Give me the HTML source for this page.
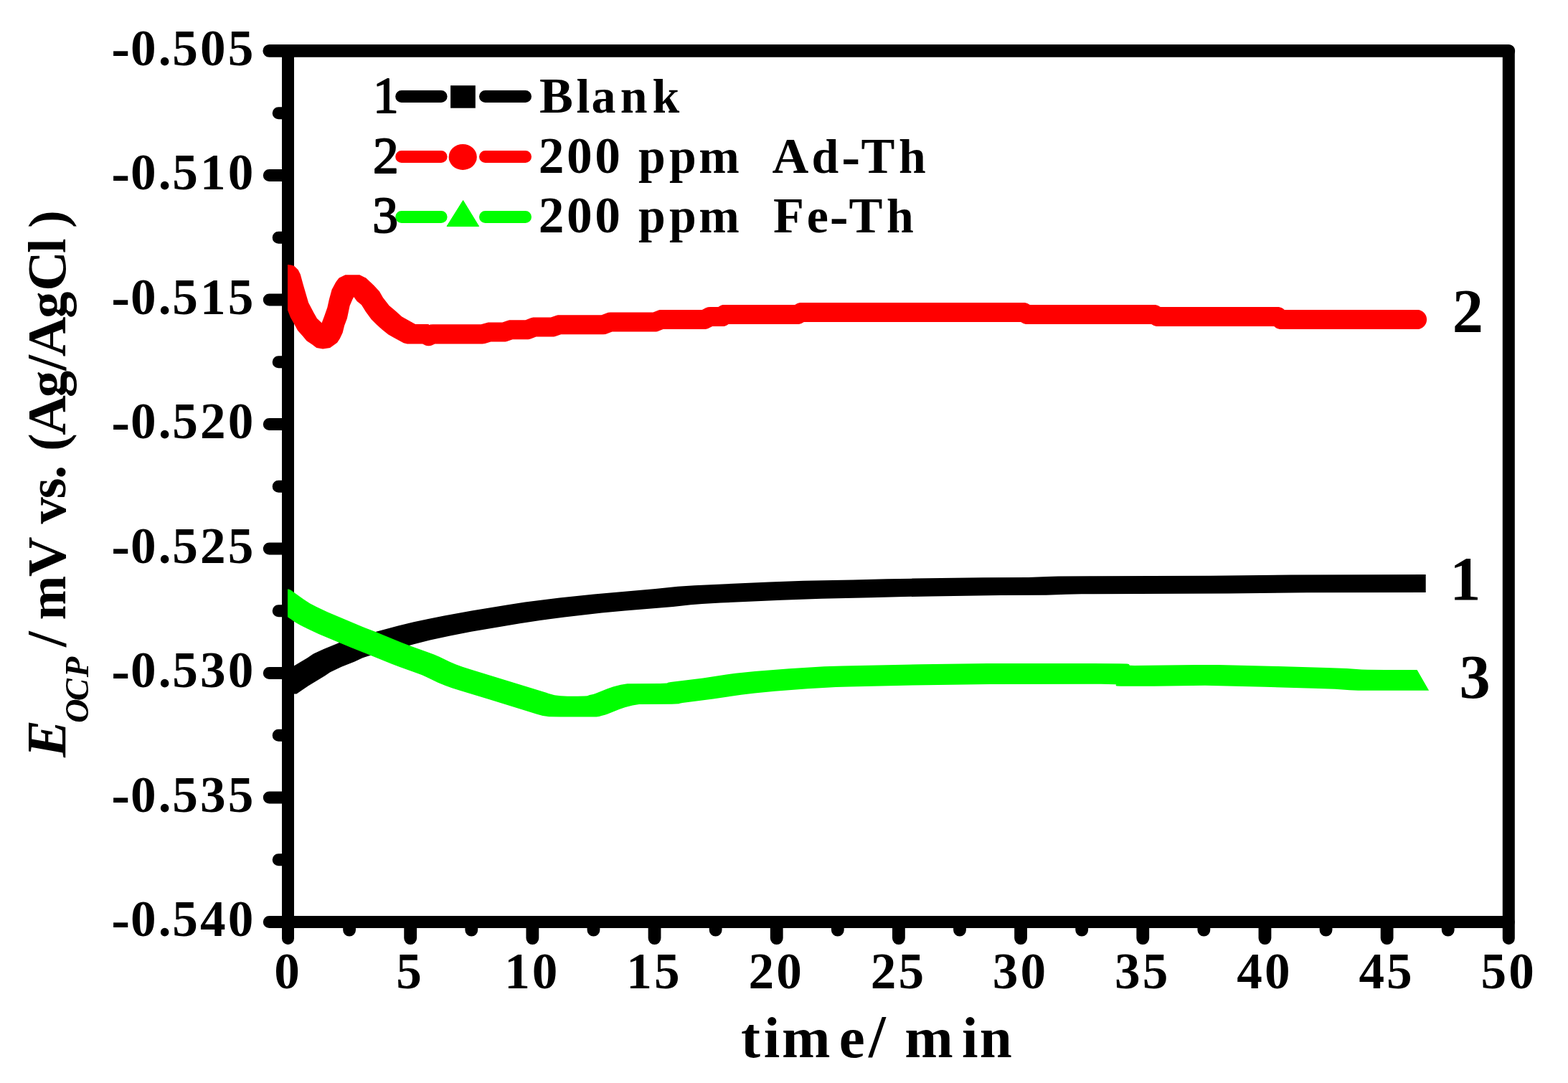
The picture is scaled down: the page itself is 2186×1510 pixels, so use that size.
<!DOCTYPE html>
<html lang="en"><head><meta charset="utf-8"><title>OCP vs time</title>
<style>html,body{margin:0;padding:0;background:#fff;}body{width:2186px;height:1510px;overflow:hidden;}svg{display:block;}text{font-family:"Liberation Serif",serif;font-weight:bold;fill:#000;white-space:pre;}</style></head><body>
<svg width="2186" height="1510" viewBox="0 0 2186 1510">
<rect width="2186" height="1510" fill="#fff"/>
<g fill="none" stroke="#000" stroke-linecap="round">
<path d="M401.5 70.9H2103.3M401.5 70.9H375.3" stroke-width="17.8"/>
<path d="M401.5 1285.5H2103.3M401.5 157.75H388.2M401.5 244.5H375.3M401.5 331.25H388.2M401.5 418H375.3M401.5 504.75H388.2M401.5 591.5H375.3M401.5 678.25H388.2M401.5 765H375.3M401.5 851.75H388.2M401.5 938.5H375.3M401.5 1025.25H388.2M401.5 1112H375.3M401.5 1198.75H388.2M401.5 1285.5H375.3" stroke-width="17"/>
<path d="M401.5 71V1285.5M2103.3 71V1285.5M401.5 1285.5V1308.5M2103.3 1285.5V1308.5" stroke-width="17"/>
<path d="M487.09 1286.5V1296.7M572.18 1286.5V1308.1M657.27 1286.5V1296.7M742.36 1286.5V1308.1M827.45 1286.5V1296.7M912.54 1286.5V1308.1M997.63 1286.5V1296.7M1082.72 1286.5V1308.1M1167.81 1286.5V1296.7M1252.9 1286.5V1308.1M1337.99 1286.5V1296.7M1423.08 1286.5V1308.1M1508.17 1286.5V1296.7M1593.26 1286.5V1308.1M1678.35 1286.5V1296.7M1763.44 1286.5V1308.1M1848.53 1286.5V1296.7M1933.62 1286.5V1308.1M2018.71 1286.5V1296.7" stroke-width="17.8"/>
</g>
<g>
<text xml:space="preserve"><tspan x="155.23" y="93.05" font-size="77.61">-</tspan><tspan x="182.1 220.83 240.2 278.93 317.66" y="90.7" font-size="71.2">0.505</tspan></text>
<text xml:space="preserve"><tspan x="155.23" y="266.55" font-size="77.61">-</tspan><tspan x="182.1 220.83 240.2 278.93 317.66" y="264.2" font-size="71.2">0.510</tspan></text>
<text xml:space="preserve"><tspan x="155.23" y="440.05" font-size="77.61">-</tspan><tspan x="182.1 220.83 240.2 278.93 317.66" y="437.7" font-size="71.2">0.515</tspan></text>
<text xml:space="preserve"><tspan x="155.23" y="613.55" font-size="77.61">-</tspan><tspan x="182.1 220.83 240.2 278.93 317.66" y="611.2" font-size="71.2">0.520</tspan></text>
<text xml:space="preserve"><tspan x="155.23" y="787.05" font-size="77.61">-</tspan><tspan x="182.1 220.83 240.2 278.93 317.66" y="784.7" font-size="71.2">0.525</tspan></text>
<text xml:space="preserve"><tspan x="155.23" y="960.55" font-size="77.61">-</tspan><tspan x="182.1 220.83 240.2 278.93 317.66" y="958.2" font-size="71.2">0.530</tspan></text>
<text xml:space="preserve"><tspan x="155.23" y="1134.05" font-size="77.61">-</tspan><tspan x="182.1 220.83 240.2 278.93 317.66" y="1131.7" font-size="71.2">0.535</tspan></text>
<text xml:space="preserve"><tspan x="155.23" y="1307.55" font-size="77.61">-</tspan><tspan x="182.1 220.83 240.2 278.93 317.66" y="1305.2" font-size="71.2">0.540</tspan></text>
</g><g>
<text xml:space="preserve" x="382.13" y="1378.1" font-size="71.2">0</text>
<text xml:space="preserve" x="552.31" y="1378.1" font-size="71.2">5</text>
<text xml:space="preserve" x="703.13 741.86" y="1378.1" font-size="71.2">10</text>
<text xml:space="preserve" x="873.31 912.04" y="1378.1" font-size="71.2">15</text>
<text xml:space="preserve" x="1043.49 1082.22" y="1378.1" font-size="71.2">20</text>
<text xml:space="preserve" x="1213.67 1252.4" y="1378.1" font-size="71.2">25</text>
<text xml:space="preserve" x="1383.85 1422.58" y="1378.1" font-size="71.2">30</text>
<text xml:space="preserve" x="1554.03 1592.76" y="1378.1" font-size="71.2">35</text>
<text xml:space="preserve" x="1724.21 1762.94" y="1378.1" font-size="71.2">40</text>
<text xml:space="preserve" x="1894.39 1933.12" y="1378.1" font-size="71.2">45</text>
<text xml:space="preserve" x="2064.57 2103.3" y="1378.1" font-size="71.2">50</text>
</g>
<text xml:space="preserve"><tspan x="1032.91 1064.7 1089.98 1169.81" y="1474.25" font-size="81.03">time</tspan><tspan x="1210.88 1234.58" y="1474.25" font-size="85.3">/ </tspan><tspan x="1261.23 1340.95 1365.87" y="1474.25" font-size="81.03">min</tspan></text>
<text xml:space="preserve" x="-1055.96" y="0" font-size="78" font-style="italic" transform="translate(91.2 0) rotate(-90)">E</text>
<text xml:space="preserve" x="-1008.12 -977.22 -944.34" y="0" font-size="46.5" font-style="italic" transform="translate(123.2 0) rotate(-90)">OCP</text>
<text xml:space="preserve" transform="translate(91.2 0) rotate(-90)"><tspan x="-921.53 -901.98 -880.26" y="0" font-size="78.2"> / </tspan><tspan x="-864.45" y="0" font-size="74.29">m</tspan><tspan x="-804.01" y="0" font-size="77.03">V</tspan><tspan x="-748.39" y="0" font-size="78.2"> </tspan><tspan x="-730.57 -695.37" y="0" font-size="74.29">vs</tspan><tspan x="-668.02 -648.48" y="0" font-size="78.2">. </tspan><tspan x="-628.67" y="0" font-size="73.51">(</tspan><tspan x="-606.66" y="0" font-size="77.03">A</tspan><tspan x="-553.89" y="0" font-size="74.29">g</tspan><tspan x="-516.63" y="0" font-size="78.2">/</tspan><tspan x="-497.16" y="0" font-size="77.03">A</tspan><tspan x="-443.84" y="0" font-size="74.29">g</tspan><tspan x="-405.76" y="0" font-size="77.03">C</tspan><tspan x="-352.91" y="0" font-size="74.29">l</tspan><tspan x="-332.27" y="0" font-size="78.2"> </tspan><tspan x="-317.71" y="0" font-size="73.51">)</tspan></text>
<path d="M559.7 134.4H615.1M676.5 134.4H732.5" stroke="#000" stroke-width="17" stroke-linecap="round" fill="none"/>
<rect x="628.1" y="119.2" width="34.7" height="31.5" fill="#000"/>
<text xml:space="preserve" x="520.11" y="157" font-size="71.4" style="font-weight:normal;stroke:#000;stroke-width:2px;stroke-linejoin:round">1</text>
<text xml:space="preserve"><tspan x="751.94" y="157" font-size="70.33">B</tspan><tspan x="803.59 824.46 864.69 909.39" y="157" font-size="67.83">lank</tspan></text>
<path d="M559.7 218.4H615.1M676.5 218.4H732.5" stroke="#f00" stroke-width="17" stroke-linecap="round" fill="none"/>
<ellipse cx="645.2" cy="218.9" rx="19.6" ry="18" fill="#f00"/>
<text xml:space="preserve" x="520.05" y="241.3" font-size="71.4" style="font-weight:normal;stroke:#000;stroke-width:2px;stroke-linejoin:round">2</text>
<text xml:space="preserve"><tspan x="750.73 790.1 829.2 864.9" y="241.3" font-size="71.4">200 </tspan><tspan x="889.93 932.98 974.37" y="241.3" font-size="67.83">ppm</tspan><tspan x="1030.87 1048.72" y="241.3" font-size="71.4">  </tspan><tspan x="1076.42" y="241.3" font-size="70.33">A</tspan><tspan x="1131.54" y="241.3" font-size="67.83">d</tspan><tspan x="1173.34" y="243.66" font-size="77.83">-</tspan><tspan x="1200.53" y="241.3" font-size="70.33">T</tspan><tspan x="1252.91" y="241.3" font-size="67.83">h</tspan></text>
<path d="M559.7 302.5H615.1M676.5 302.5H732.5" stroke="#0f0" stroke-width="17" stroke-linecap="round" fill="none"/>
<path d="M645.6 279.5L667.6 315.5L623 315.5Z" fill="#0f0" stroke="#0f0" stroke-width="1" stroke-linejoin="round"/>
<text xml:space="preserve" x="519.34" y="324.3" font-size="71.4" style="font-weight:normal;stroke:#000;stroke-width:2px;stroke-linejoin:round">3</text>
<text xml:space="preserve"><tspan x="750.73 790.1 829.2 864.9" y="324.3" font-size="71.4">200 </tspan><tspan x="889.93 932.98 974.37" y="324.3" font-size="67.83">ppm</tspan><tspan x="1030.87 1048.72" y="324.3" font-size="71.4">  </tspan><tspan x="1078.05" y="324.3" font-size="70.33">F</tspan><tspan x="1124.72" y="324.3" font-size="67.83">e</tspan><tspan x="1156.64" y="326.66" font-size="77.83">-</tspan><tspan x="1183.53" y="324.3" font-size="70.33">T</tspan><tspan x="1235.91" y="324.3" font-size="67.83">h</tspan></text>
<path d="M555.1 872.6L520.69 881.84L492.48 888.71L484.83 891L480.21 892.76L469.6 897.6L451.22 905.03L437.6 911.35L435.14 912.75L428.58 917.29L405.1 931.35L401 934.08L401 967.4L413.4 967.4L429.9 956.15L453.38 942.09L459.94 937.55L462.4 936.15L476.02 929.83L494.4 922.4L505.01 917.56L512.4 914.9L519.08 913.04L545.49 906.64L577.87 897.92L599.48 892.6L627.52 886.5L656.76 880.81L724.9 869.33L752.9 864.94L786.9 860.51L838.9 854.62L871.47 851.47L938.4 845.9L962.97 843.22L979.04 841.89L1004.69 840.49L1089.28 836.67L1145.05 834.65L1213.96 833.37L1260.91 832.07L1297.3 831.42L1395.15 830.12L1458.4 829.8L1486.06 828.64L1507.9 828.24L1712.4 827.6L1822.51 826.34L1987.7 825.9L1987.7 801.1L1799.76 801.53L1687.6 802.8L1519.86 803.23L1475.26 803.54L1459.23 803.91L1433.6 805L1370.35 805.32L1272.5 806.62L1236.11 807.27L1189.16 808.57L1120.25 809.85L1072.86 811.51L968.28 816.27L944.93 817.79L913.6 821.1L828.1 828.4L780.1 833.6L732.1 839.57L708.1 843.22L657.69 851.55L619.25 858.4L596.87 862.92L576.71 867.33Z" fill="#000"/>
<path d="M401.02 432.61L405.03 442.63L410.03 451.39L415.04 460.78L421.3 467.66L427.56 475.17L435.07 480.18L441.33 484.94L450.09 486.44L460.1 484.94L470.12 477.68L473.87 472.04L477.63 463.91L480.13 453.89L483.89 443.88L487.64 426.35L491.4 417.59L493.27 414.09L497.65 420.1L503.91 425.1L510.17 435.12L517.68 445.13L525.19 452.64L532.7 459.53L541.47 466.41L548.98 470.79L562.74 478.3L567.75 479.55L589.14 479.6L593.01 481.44L594.77 481.92L596.59 482.17L598.41 482.17L600.23 481.92L601.99 481.44L606.26 479.4L672.5 479.4L674.35 479.27L676.17 478.9L684.37 476.6L702.5 476.6L704.63 476.43L706.7 475.93L714.65 473.35L736.62 473.25L739.78 472.48L747.47 469.6L770 469.6L772.13 469.43L774.2 468.93L782.15 466.35L841 466.35L844.22 465.96L853.47 462.6L913 462.6L914.68 462.5L916.33 462.19L924.55 459.1L983.57 459.01L986.63 458.29L993.21 455.1L1007 455.1L1008.78 454.98L1010.52 454.64L1012.2 454.06L1013.8 453.28L1015.5 452.1L1112 452.1L1113.83 451.98L1115.63 451.61L1117.36 451L1120.77 449.1L1423.23 449.1L1426.64 451L1428.37 451.61L1430.17 451.98L1432 452.1L1605.23 452.1L1608.64 454L1610.37 454.61L1612.17 454.98L1614 455.1L1776.23 455.1L1779.01 457.17L1780.64 458L1782.37 458.61L1784.17 458.98L1786 459.1L1975.5 459.1L1977.28 458.98L1979.02 458.64L1980.7 458.06L1982.3 457.28L1983.78 456.29L1985.12 455.12L1986.29 453.78L1987.28 452.3L1988.06 450.7L1988.64 449.02L1988.98 447.28L1989.1 445.5L1988.98 443.72L1988.64 441.98L1988.06 440.3L1987.28 438.7L1986.29 437.22L1985.12 435.88L1983.78 434.71L1982.3 433.72L1980.7 432.94L1979.02 432.36L1977.28 432.02L1975.5 431.9L1790.77 431.9L1787.99 429.83L1786.36 429L1784.63 428.39L1782.83 428.02L1781 427.9L1617.77 427.9L1614.36 426L1612.63 425.39L1610.83 425.02L1609 424.9L1435.77 424.9L1432.36 423L1430.63 422.39L1428.83 422.02L1427 421.9L1117 421.9L1115.17 422.02L1113.37 422.39L1111.64 423L1108.23 424.9L1010 424.9L1008.22 425.02L1006.48 425.36L1004.8 425.94L1003.2 426.72L1001.5 427.9L990 427.9L986.88 428.26L983.92 429.34L978.79 431.9L922 431.9L920.32 432L918.67 432.31L910.45 435.4L851 435.4L847.78 435.79L838.53 439.15L780 439.15L777.87 439.32L775.8 439.82L767.85 442.4L743.38 442.5L740.22 443.27L732.53 446.15L712.5 446.15L710.37 446.32L708.3 446.82L700.35 449.4L682.5 449.4L680.65 449.53L678.83 449.9L670.63 452.2L603 452.2L599.83 452.58L597.79 453.26L597.79 452.02L579.02 452.02L560.24 441.38L550.23 432.61L542.72 426.35L533.95 415.09L528.95 406.33L520.81 397.57L510.17 387.55L501.41 383.17L481.38 383.17L472.62 387.55L468.24 393.18L462.61 403.82L458.85 417.59L456.35 428.86L452.59 439.5L448.59 450.14L441.95 443.88L437.57 436.37L430.06 421.97L422.55 396.31L418.8 382.54L415.67 376.29L410.03 370.65L405.65 369.4L401 369.03Z" fill="#f00"/>
<path d="M401 860.31L411.79 867.75L419.27 872.06L428.88 876.85L444.27 883.88L488.5 902.5L506 909.4L545.55 925.56L557.37 930.09L579 937.7L588.5 941.3L595.56 944.39L610.54 951.63L621.02 955.99L629.95 959.13L642.78 963.25L681.55 974.98L748.5 995.7L756.62 998.07L765.22 999.15L781.34 999.54L821.69 999.55L831.5 999.4L835.31 999.04L838.5 997.9L843.46 996.73L846.5 995.7L863.32 988.94L871.26 986.2L881.91 983.56L891.06 982.05L936.55 981.74L946.68 981.37L947.61 980.64L951.5 979.9L994.32 974.49L1033.18 968.66L1052.11 966.41L1080.22 963.87L1126.07 960.3L1165.43 958.08L1183.98 957.38L1271.92 955.58L1380.02 953.93L1534.91 953.86L1554.65 954.28L1556.33 954.53L1555.42 956.12L1557.01 956.48L1562.5 956.7L1609.16 956.71L1679.95 955.83L1763.24 957.77L1830.75 959.7L1861.19 960.82L1881.76 962.26L1893.5 962.7L1992.1 962.7L1975.6 933.9L1930.44 934.05L1907.19 933.83L1898.26 933.46L1877.69 932.02L1849.3 930.97L1781.88 929.03L1698.38 927.06L1667.09 926.94L1581.5 927.93L1574.9 927.74L1573.84 925.88L1571.15 925.48L1560.34 925.14L1376.51 925.02L1283.2 926.31L1174.39 928.4L1148.93 929.28L1100.46 932.17L1052.5 936.02L1025.39 938.73L1012.53 940.45L980 945.4L935 951.1L931.11 951.84L930.18 952.57L920.05 952.94L874.56 953.25L865.41 954.76L854.76 957.4L846.82 960.14L830 966.9L826.96 967.93L822 969.1L818.81 970.24L815 970.6L805.19 970.75L791.05 970.67L781.72 970.35L773.12 969.27L765 966.9L698.05 946.18L657.35 933.85L644.77 929.77L635.19 926.29L627.04 922.83L612.06 915.59L605 912.5L595.5 908.9L573.87 901.29L560.12 895.99L522.5 880.6L505 873.7L456.92 853.38L441.54 846.21L431.92 841.13L422.79 835.28L406.06 823.29L405 822.6L401.44 821.16L401 821.9Z" fill="#0f0"/>
<text xml:space="preserve" x="2021.28" y="835.6" font-size="86.3">1</text>
<text xml:space="preserve" x="2024.72" y="462.75" font-size="86.3">2</text>
<text xml:space="preserve" x="2034.4" y="972.9" font-size="86.3">3</text>
</svg></body></html>
